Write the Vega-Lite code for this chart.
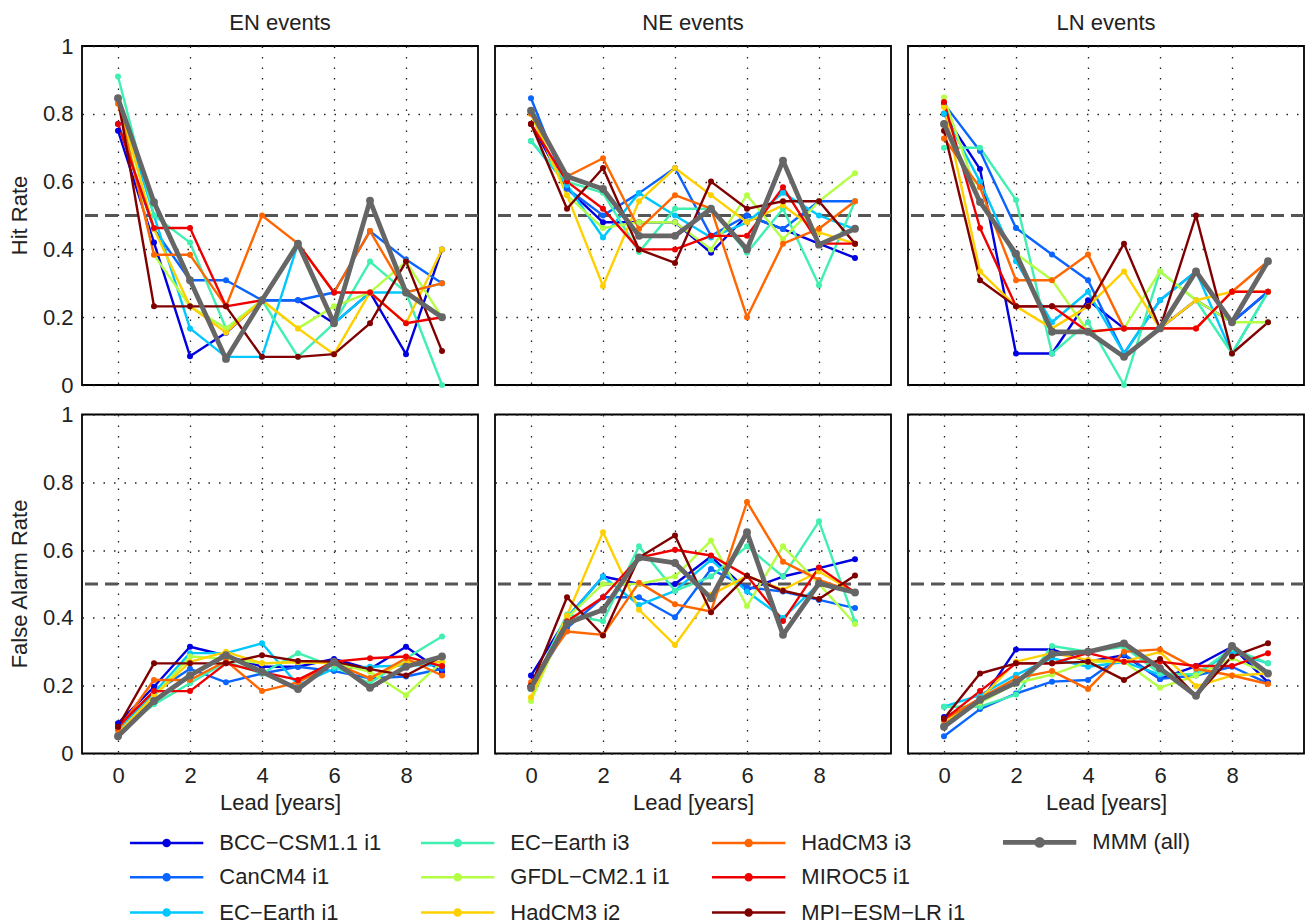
{
"$schema": "https://vega.github.io/schema/vega-lite/v6.json",
"padding": {"left": 9, "top": 12, "right": 0, "bottom": 0},
"background": "white",
"data": {"values": [
{"e":"EN","m":"H","s":"B","x":0,"y":0.75},{"e":"EN","m":"H","s":"B","x":1,"y":0.42},{"e":"EN","m":"H","s":"B","x":2,"y":0.085},{"e":"EN","m":"H","s":"B","x":3,"y":0.154},{"e":"EN","m":"H","s":"B","x":4,"y":0.25},{"e":"EN","m":"H","s":"B","x":5,"y":0.25},{"e":"EN","m":"H","s":"B","x":6,"y":0.182},{"e":"EN","m":"H","s":"B","x":7,"y":0.273},{"e":"EN","m":"H","s":"B","x":8,"y":0.091},{"e":"EN","m":"H","s":"B","x":9,"y":0.4},
{"e":"EN","m":"H","s":"C","x":0,"y":0.77},{"e":"EN","m":"H","s":"C","x":1,"y":0.46},{"e":"EN","m":"H","s":"C","x":2,"y":0.309},{"e":"EN","m":"H","s":"C","x":3,"y":0.309},{"e":"EN","m":"H","s":"C","x":4,"y":0.25},{"e":"EN","m":"H","s":"C","x":5,"y":0.25},{"e":"EN","m":"H","s":"C","x":6,"y":0.273},{"e":"EN","m":"H","s":"C","x":7,"y":0.454},{"e":"EN","m":"H","s":"C","x":8,"y":0.37},{"e":"EN","m":"H","s":"C","x":9,"y":0.3},
{"e":"EN","m":"H","s":"E1","x":0,"y":0.846},{"e":"EN","m":"H","s":"E1","x":1,"y":0.5},{"e":"EN","m":"H","s":"E1","x":2,"y":0.167},{"e":"EN","m":"H","s":"E1","x":3,"y":0.083},{"e":"EN","m":"H","s":"E1","x":4,"y":0.083},{"e":"EN","m":"H","s":"E1","x":5,"y":0.417},{"e":"EN","m":"H","s":"E1","x":6,"y":0.182},{"e":"EN","m":"H","s":"E1","x":7,"y":0.273},{"e":"EN","m":"H","s":"E1","x":8,"y":0.273},{"e":"EN","m":"H","s":"E1","x":9,"y":0.3},
{"e":"EN","m":"H","s":"E3","x":0,"y":0.91},{"e":"EN","m":"H","s":"E3","x":1,"y":0.5},{"e":"EN","m":"H","s":"E3","x":2,"y":0.42},{"e":"EN","m":"H","s":"E3","x":3,"y":0.167},{"e":"EN","m":"H","s":"E3","x":4,"y":0.25},{"e":"EN","m":"H","s":"E3","x":5,"y":0.083},{"e":"EN","m":"H","s":"E3","x":6,"y":0.182},{"e":"EN","m":"H","s":"E3","x":7,"y":0.364},{"e":"EN","m":"H","s":"E3","x":8,"y":0.273},{"e":"EN","m":"H","s":"E3","x":9,"y":0},
{"e":"EN","m":"H","s":"G","x":0,"y":0.846},{"e":"EN","m":"H","s":"G","x":1,"y":0.384},{"e":"EN","m":"H","s":"G","x":2,"y":0.232},{"e":"EN","m":"H","s":"G","x":3,"y":0.167},{"e":"EN","m":"H","s":"G","x":4,"y":0.25},{"e":"EN","m":"H","s":"G","x":5,"y":0.167},{"e":"EN","m":"H","s":"G","x":6,"y":0.232},{"e":"EN","m":"H","s":"G","x":7,"y":0.273},{"e":"EN","m":"H","s":"G","x":8,"y":0.364},{"e":"EN","m":"H","s":"G","x":9,"y":0.2},
{"e":"EN","m":"H","s":"H2","x":0,"y":0.846},{"e":"EN","m":"H","s":"H2","x":1,"y":0.46},{"e":"EN","m":"H","s":"H2","x":2,"y":0.232},{"e":"EN","m":"H","s":"H2","x":3,"y":0.155},{"e":"EN","m":"H","s":"H2","x":4,"y":0.25},{"e":"EN","m":"H","s":"H2","x":5,"y":0.167},{"e":"EN","m":"H","s":"H2","x":6,"y":0.091},{"e":"EN","m":"H","s":"H2","x":7,"y":0.273},{"e":"EN","m":"H","s":"H2","x":8,"y":0.182},{"e":"EN","m":"H","s":"H2","x":9,"y":0.4},
{"e":"EN","m":"H","s":"H3","x":0,"y":0.83},{"e":"EN","m":"H","s":"H3","x":1,"y":0.384},{"e":"EN","m":"H","s":"H3","x":2,"y":0.384},{"e":"EN","m":"H","s":"H3","x":3,"y":0.232},{"e":"EN","m":"H","s":"H3","x":4,"y":0.5},{"e":"EN","m":"H","s":"H3","x":5,"y":0.417},{"e":"EN","m":"H","s":"H3","x":6,"y":0.273},{"e":"EN","m":"H","s":"H3","x":7,"y":0.454},{"e":"EN","m":"H","s":"H3","x":8,"y":0.273},{"e":"EN","m":"H","s":"H3","x":9,"y":0.3},
{"e":"EN","m":"H","s":"M","x":0,"y":0.77},{"e":"EN","m":"H","s":"M","x":1,"y":0.463},{"e":"EN","m":"H","s":"M","x":2,"y":0.463},{"e":"EN","m":"H","s":"M","x":3,"y":0.232},{"e":"EN","m":"H","s":"M","x":4,"y":0.25},{"e":"EN","m":"H","s":"M","x":5,"y":0.417},{"e":"EN","m":"H","s":"M","x":6,"y":0.273},{"e":"EN","m":"H","s":"M","x":7,"y":0.273},{"e":"EN","m":"H","s":"M","x":8,"y":0.182},{"e":"EN","m":"H","s":"M","x":9,"y":0.2},
{"e":"EN","m":"H","s":"P","x":0,"y":0.846},{"e":"EN","m":"H","s":"P","x":1,"y":0.232},{"e":"EN","m":"H","s":"P","x":2,"y":0.232},{"e":"EN","m":"H","s":"P","x":3,"y":0.232},{"e":"EN","m":"H","s":"P","x":4,"y":0.083},{"e":"EN","m":"H","s":"P","x":5,"y":0.083},{"e":"EN","m":"H","s":"P","x":6,"y":0.091},{"e":"EN","m":"H","s":"P","x":7,"y":0.182},{"e":"EN","m":"H","s":"P","x":8,"y":0.364},{"e":"EN","m":"H","s":"P","x":9,"y":0.1},
{"e":"EN","m":"H","s":"MMM","x":0,"y":0.846},{"e":"EN","m":"H","s":"MMM","x":1,"y":0.539},{"e":"EN","m":"H","s":"MMM","x":2,"y":0.309},{"e":"EN","m":"H","s":"MMM","x":3,"y":0.077},{"e":"EN","m":"H","s":"MMM","x":4,"y":0.25},{"e":"EN","m":"H","s":"MMM","x":5,"y":0.417},{"e":"EN","m":"H","s":"MMM","x":6,"y":0.182},{"e":"EN","m":"H","s":"MMM","x":7,"y":0.544},{"e":"EN","m":"H","s":"MMM","x":8,"y":0.273},{"e":"EN","m":"H","s":"MMM","x":9,"y":0.2},
{"e":"NE","m":"H","s":"B","x":0,"y":0.77},{"e":"NE","m":"H","s":"B","x":1,"y":0.58},{"e":"NE","m":"H","s":"B","x":2,"y":0.48},{"e":"NE","m":"H","s":"B","x":3,"y":0.48},{"e":"NE","m":"H","s":"B","x":4,"y":0.48},{"e":"NE","m":"H","s":"B","x":5,"y":0.39},{"e":"NE","m":"H","s":"B","x":6,"y":0.5},{"e":"NE","m":"H","s":"B","x":7,"y":0.46},{"e":"NE","m":"H","s":"B","x":8,"y":0.417},{"e":"NE","m":"H","s":"B","x":9,"y":0.375},
{"e":"NE","m":"H","s":"C","x":0,"y":0.846},{"e":"NE","m":"H","s":"C","x":1,"y":0.58},{"e":"NE","m":"H","s":"C","x":2,"y":0.5},{"e":"NE","m":"H","s":"C","x":3,"y":0.566},{"e":"NE","m":"H","s":"C","x":4,"y":0.64},{"e":"NE","m":"H","s":"C","x":5,"y":0.44},{"e":"NE","m":"H","s":"C","x":6,"y":0.5},{"e":"NE","m":"H","s":"C","x":7,"y":0.46},{"e":"NE","m":"H","s":"C","x":8,"y":0.542},{"e":"NE","m":"H","s":"C","x":9,"y":0.542},
{"e":"NE","m":"H","s":"E1","x":0,"y":0.72},{"e":"NE","m":"H","s":"E1","x":1,"y":0.59},{"e":"NE","m":"H","s":"E1","x":2,"y":0.435},{"e":"NE","m":"H","s":"E1","x":3,"y":0.566},{"e":"NE","m":"H","s":"E1","x":4,"y":0.5},{"e":"NE","m":"H","s":"E1","x":5,"y":0.435},{"e":"NE","m":"H","s":"E1","x":6,"y":0.48},{"e":"NE","m":"H","s":"E1","x":7,"y":0.567},{"e":"NE","m":"H","s":"E1","x":8,"y":0.5},{"e":"NE","m":"H","s":"E1","x":9,"y":0.46},
{"e":"NE","m":"H","s":"E3","x":0,"y":0.72},{"e":"NE","m":"H","s":"E3","x":1,"y":0.6},{"e":"NE","m":"H","s":"E3","x":2,"y":0.567},{"e":"NE","m":"H","s":"E3","x":3,"y":0.392},{"e":"NE","m":"H","s":"E3","x":4,"y":0.52},{"e":"NE","m":"H","s":"E3","x":5,"y":0.52},{"e":"NE","m":"H","s":"E3","x":6,"y":0.39},{"e":"NE","m":"H","s":"E3","x":7,"y":0.52},{"e":"NE","m":"H","s":"E3","x":8,"y":0.294},{"e":"NE","m":"H","s":"E3","x":9,"y":0.542},
{"e":"NE","m":"H","s":"G","x":0,"y":0.8},{"e":"NE","m":"H","s":"G","x":1,"y":0.56},{"e":"NE","m":"H","s":"G","x":2,"y":0.463},{"e":"NE","m":"H","s":"G","x":3,"y":0.48},{"e":"NE","m":"H","s":"G","x":4,"y":0.48},{"e":"NE","m":"H","s":"G","x":5,"y":0.4},{"e":"NE","m":"H","s":"G","x":6,"y":0.56},{"e":"NE","m":"H","s":"G","x":7,"y":0.43},{"e":"NE","m":"H","s":"G","x":8,"y":0.542},{"e":"NE","m":"H","s":"G","x":9,"y":0.625},
{"e":"NE","m":"H","s":"H2","x":0,"y":0.8},{"e":"NE","m":"H","s":"H2","x":1,"y":0.56},{"e":"NE","m":"H","s":"H2","x":2,"y":0.292},{"e":"NE","m":"H","s":"H2","x":3,"y":0.542},{"e":"NE","m":"H","s":"H2","x":4,"y":0.64},{"e":"NE","m":"H","s":"H2","x":5,"y":0.56},{"e":"NE","m":"H","s":"H2","x":6,"y":0.48},{"e":"NE","m":"H","s":"H2","x":7,"y":0.53},{"e":"NE","m":"H","s":"H2","x":8,"y":0.45},{"e":"NE","m":"H","s":"H2","x":9,"y":0.417},
{"e":"NE","m":"H","s":"H3","x":0,"y":0.8},{"e":"NE","m":"H","s":"H3","x":1,"y":0.615},{"e":"NE","m":"H","s":"H3","x":2,"y":0.669},{"e":"NE","m":"H","s":"H3","x":3,"y":0.46},{"e":"NE","m":"H","s":"H3","x":4,"y":0.56},{"e":"NE","m":"H","s":"H3","x":5,"y":0.52},{"e":"NE","m":"H","s":"H3","x":6,"y":0.2},{"e":"NE","m":"H","s":"H3","x":7,"y":0.417},{"e":"NE","m":"H","s":"H3","x":8,"y":0.461},{"e":"NE","m":"H","s":"H3","x":9,"y":0.542},
{"e":"NE","m":"H","s":"M","x":0,"y":0.77},{"e":"NE","m":"H","s":"M","x":1,"y":0.6},{"e":"NE","m":"H","s":"M","x":2,"y":0.52},{"e":"NE","m":"H","s":"M","x":3,"y":0.4},{"e":"NE","m":"H","s":"M","x":4,"y":0.4},{"e":"NE","m":"H","s":"M","x":5,"y":0.44},{"e":"NE","m":"H","s":"M","x":6,"y":0.44},{"e":"NE","m":"H","s":"M","x":7,"y":0.583},{"e":"NE","m":"H","s":"M","x":8,"y":0.417},{"e":"NE","m":"H","s":"M","x":9,"y":0.417},
{"e":"NE","m":"H","s":"P","x":0,"y":0.77},{"e":"NE","m":"H","s":"P","x":1,"y":0.52},{"e":"NE","m":"H","s":"P","x":2,"y":0.64},{"e":"NE","m":"H","s":"P","x":3,"y":0.4},{"e":"NE","m":"H","s":"P","x":4,"y":0.36},{"e":"NE","m":"H","s":"P","x":5,"y":0.6},{"e":"NE","m":"H","s":"P","x":6,"y":0.52},{"e":"NE","m":"H","s":"P","x":7,"y":0.542},{"e":"NE","m":"H","s":"P","x":8,"y":0.542},{"e":"NE","m":"H","s":"P","x":9,"y":0.417},
{"e":"NE","m":"H","s":"MMM","x":0,"y":0.809},{"e":"NE","m":"H","s":"MMM","x":1,"y":0.615},{"e":"NE","m":"H","s":"MMM","x":2,"y":0.578},{"e":"NE","m":"H","s":"MMM","x":3,"y":0.44},{"e":"NE","m":"H","s":"MMM","x":4,"y":0.44},{"e":"NE","m":"H","s":"MMM","x":5,"y":0.52},{"e":"NE","m":"H","s":"MMM","x":6,"y":0.4},{"e":"NE","m":"H","s":"MMM","x":7,"y":0.662},{"e":"NE","m":"H","s":"MMM","x":8,"y":0.414},{"e":"NE","m":"H","s":"MMM","x":9,"y":0.461},
{"e":"LN","m":"H","s":"B","x":0,"y":0.8},{"e":"LN","m":"H","s":"B","x":1,"y":0.637},{"e":"LN","m":"H","s":"B","x":2,"y":0.093},{"e":"LN","m":"H","s":"B","x":3,"y":0.093},{"e":"LN","m":"H","s":"B","x":4,"y":0.25},{"e":"LN","m":"H","s":"B","x":5,"y":0.167},{"e":"LN","m":"H","s":"B","x":6,"y":0.167},{"e":"LN","m":"H","s":"B","x":7,"y":0.25},{"e":"LN","m":"H","s":"B","x":8,"y":0.185},{"e":"LN","m":"H","s":"B","x":9,"y":0.275},
{"e":"LN","m":"H","s":"C","x":0,"y":0.83},{"e":"LN","m":"H","s":"C","x":1,"y":0.69},{"e":"LN","m":"H","s":"C","x":2,"y":0.463},{"e":"LN","m":"H","s":"C","x":3,"y":0.385},{"e":"LN","m":"H","s":"C","x":4,"y":0.309},{"e":"LN","m":"H","s":"C","x":5,"y":0.093},{"e":"LN","m":"H","s":"C","x":6,"y":0.25},{"e":"LN","m":"H","s":"C","x":7,"y":0.335},{"e":"LN","m":"H","s":"C","x":8,"y":0.185},{"e":"LN","m":"H","s":"C","x":9,"y":0.275},
{"e":"LN","m":"H","s":"E1","x":0,"y":0.8},{"e":"LN","m":"H","s":"E1","x":1,"y":0.6},{"e":"LN","m":"H","s":"E1","x":2,"y":0.365},{"e":"LN","m":"H","s":"E1","x":3,"y":0.185},{"e":"LN","m":"H","s":"E1","x":4,"y":0.275},{"e":"LN","m":"H","s":"E1","x":5,"y":0.093},{"e":"LN","m":"H","s":"E1","x":6,"y":0.25},{"e":"LN","m":"H","s":"E1","x":7,"y":0.335},{"e":"LN","m":"H","s":"E1","x":8,"y":0.093},{"e":"LN","m":"H","s":"E1","x":9,"y":0.275},
{"e":"LN","m":"H","s":"E3","x":0,"y":0.7},{"e":"LN","m":"H","s":"E3","x":1,"y":0.7},{"e":"LN","m":"H","s":"E3","x":2,"y":0.546},{"e":"LN","m":"H","s":"E3","x":3,"y":0.093},{"e":"LN","m":"H","s":"E3","x":4,"y":0.185},{"e":"LN","m":"H","s":"E3","x":5,"y":0},{"e":"LN","m":"H","s":"E3","x":6,"y":0.335},{"e":"LN","m":"H","s":"E3","x":7,"y":0.25},{"e":"LN","m":"H","s":"E3","x":8,"y":0.093},{"e":"LN","m":"H","s":"E3","x":9,"y":0.275},
{"e":"LN","m":"H","s":"G","x":0,"y":0.848},{"e":"LN","m":"H","s":"G","x":1,"y":0.54},{"e":"LN","m":"H","s":"G","x":2,"y":0.387},{"e":"LN","m":"H","s":"G","x":3,"y":0.31},{"e":"LN","m":"H","s":"G","x":4,"y":0.157},{"e":"LN","m":"H","s":"G","x":5,"y":0.167},{"e":"LN","m":"H","s":"G","x":6,"y":0.335},{"e":"LN","m":"H","s":"G","x":7,"y":0.25},{"e":"LN","m":"H","s":"G","x":8,"y":0.185},{"e":"LN","m":"H","s":"G","x":9,"y":0.185},
{"e":"LN","m":"H","s":"H2","x":0,"y":0.82},{"e":"LN","m":"H","s":"H2","x":1,"y":0.335},{"e":"LN","m":"H","s":"H2","x":2,"y":0.232},{"e":"LN","m":"H","s":"H2","x":3,"y":0.167},{"e":"LN","m":"H","s":"H2","x":4,"y":0.232},{"e":"LN","m":"H","s":"H2","x":5,"y":0.335},{"e":"LN","m":"H","s":"H2","x":6,"y":0.167},{"e":"LN","m":"H","s":"H2","x":7,"y":0.25},{"e":"LN","m":"H","s":"H2","x":8,"y":0.275},{"e":"LN","m":"H","s":"H2","x":9,"y":0.275},
{"e":"LN","m":"H","s":"H3","x":0,"y":0.727},{"e":"LN","m":"H","s":"H3","x":1,"y":0.583},{"e":"LN","m":"H","s":"H3","x":2,"y":0.309},{"e":"LN","m":"H","s":"H3","x":3,"y":0.309},{"e":"LN","m":"H","s":"H3","x":4,"y":0.385},{"e":"LN","m":"H","s":"H3","x":5,"y":0.167},{"e":"LN","m":"H","s":"H3","x":6,"y":0.167},{"e":"LN","m":"H","s":"H3","x":7,"y":0.167},{"e":"LN","m":"H","s":"H3","x":8,"y":0.275},{"e":"LN","m":"H","s":"H3","x":9,"y":0.365},
{"e":"LN","m":"H","s":"M","x":0,"y":0.835},{"e":"LN","m":"H","s":"M","x":1,"y":0.463},{"e":"LN","m":"H","s":"M","x":2,"y":0.232},{"e":"LN","m":"H","s":"M","x":3,"y":0.232},{"e":"LN","m":"H","s":"M","x":4,"y":0.157},{"e":"LN","m":"H","s":"M","x":5,"y":0.167},{"e":"LN","m":"H","s":"M","x":6,"y":0.167},{"e":"LN","m":"H","s":"M","x":7,"y":0.167},{"e":"LN","m":"H","s":"M","x":8,"y":0.275},{"e":"LN","m":"H","s":"M","x":9,"y":0.275},
{"e":"LN","m":"H","s":"P","x":0,"y":0.75},{"e":"LN","m":"H","s":"P","x":1,"y":0.309},{"e":"LN","m":"H","s":"P","x":2,"y":0.232},{"e":"LN","m":"H","s":"P","x":3,"y":0.232},{"e":"LN","m":"H","s":"P","x":4,"y":0.232},{"e":"LN","m":"H","s":"P","x":5,"y":0.417},{"e":"LN","m":"H","s":"P","x":6,"y":0.167},{"e":"LN","m":"H","s":"P","x":7,"y":0.5},{"e":"LN","m":"H","s":"P","x":8,"y":0.093},{"e":"LN","m":"H","s":"P","x":9,"y":0.185},
{"e":"LN","m":"H","s":"MMM","x":0,"y":0.77},{"e":"LN","m":"H","s":"MMM","x":1,"y":0.54},{"e":"LN","m":"H","s":"MMM","x":2,"y":0.387},{"e":"LN","m":"H","s":"MMM","x":3,"y":0.157},{"e":"LN","m":"H","s":"MMM","x":4,"y":0.157},{"e":"LN","m":"H","s":"MMM","x":5,"y":0.083},{"e":"LN","m":"H","s":"MMM","x":6,"y":0.167},{"e":"LN","m":"H","s":"MMM","x":7,"y":0.335},{"e":"LN","m":"H","s":"MMM","x":8,"y":0.185},{"e":"LN","m":"H","s":"MMM","x":9,"y":0.365},
{"e":"EN","m":"F","s":"B","x":0,"y":0.089},{"e":"EN","m":"F","s":"B","x":1,"y":0.197},{"e":"EN","m":"F","s":"B","x":2,"y":0.315},{"e":"EN","m":"F","s":"B","x":3,"y":0.289},{"e":"EN","m":"F","s":"B","x":4,"y":0.256},{"e":"EN","m":"F","s":"B","x":5,"y":0.256},{"e":"EN","m":"F","s":"B","x":6,"y":0.279},{"e":"EN","m":"F","s":"B","x":7,"y":0.249},{"e":"EN","m":"F","s":"B","x":8,"y":0.315},{"e":"EN","m":"F","s":"B","x":9,"y":0.241},
{"e":"EN","m":"F","s":"C","x":0,"y":0.07},{"e":"EN","m":"F","s":"C","x":1,"y":0.18},{"e":"EN","m":"F","s":"C","x":2,"y":0.25},{"e":"EN","m":"F","s":"C","x":3,"y":0.21},{"e":"EN","m":"F","s":"C","x":4,"y":0.236},{"e":"EN","m":"F","s":"C","x":5,"y":0.256},{"e":"EN","m":"F","s":"C","x":6,"y":0.243},{"e":"EN","m":"F","s":"C","x":7,"y":0.222},{"e":"EN","m":"F","s":"C","x":8,"y":0.227},{"e":"EN","m":"F","s":"C","x":9,"y":0.25},
{"e":"EN","m":"F","s":"E1","x":0,"y":0.07},{"e":"EN","m":"F","s":"E1","x":1,"y":0.18},{"e":"EN","m":"F","s":"E1","x":2,"y":0.296},{"e":"EN","m":"F","s":"E1","x":3,"y":0.296},{"e":"EN","m":"F","s":"E1","x":4,"y":0.325},{"e":"EN","m":"F","s":"E1","x":5,"y":0.202},{"e":"EN","m":"F","s":"E1","x":6,"y":0.25},{"e":"EN","m":"F","s":"E1","x":7,"y":0.256},{"e":"EN","m":"F","s":"E1","x":8,"y":0.26},{"e":"EN","m":"F","s":"E1","x":9,"y":0.26},
{"e":"EN","m":"F","s":"E3","x":0,"y":0.06},{"e":"EN","m":"F","s":"E3","x":1,"y":0.145},{"e":"EN","m":"F","s":"E3","x":2,"y":0.207},{"e":"EN","m":"F","s":"E3","x":3,"y":0.27},{"e":"EN","m":"F","s":"E3","x":4,"y":0.236},{"e":"EN","m":"F","s":"E3","x":5,"y":0.296},{"e":"EN","m":"F","s":"E3","x":6,"y":0.256},{"e":"EN","m":"F","s":"E3","x":7,"y":0.207},{"e":"EN","m":"F","s":"E3","x":8,"y":0.281},{"e":"EN","m":"F","s":"E3","x":9,"y":0.345},
{"e":"EN","m":"F","s":"G","x":0,"y":0.06},{"e":"EN","m":"F","s":"G","x":1,"y":0.17},{"e":"EN","m":"F","s":"G","x":2,"y":0.286},{"e":"EN","m":"F","s":"G","x":3,"y":0.28},{"e":"EN","m":"F","s":"G","x":4,"y":0.266},{"e":"EN","m":"F","s":"G","x":5,"y":0.27},{"e":"EN","m":"F","s":"G","x":6,"y":0.266},{"e":"EN","m":"F","s":"G","x":7,"y":0.241},{"e":"EN","m":"F","s":"G","x":8,"y":0.172},{"e":"EN","m":"F","s":"G","x":9,"y":0.27},
{"e":"EN","m":"F","s":"H2","x":0,"y":0.06},{"e":"EN","m":"F","s":"H2","x":1,"y":0.17},{"e":"EN","m":"F","s":"H2","x":2,"y":0.27},{"e":"EN","m":"F","s":"H2","x":3,"y":0.3},{"e":"EN","m":"F","s":"H2","x":4,"y":0.266},{"e":"EN","m":"F","s":"H2","x":5,"y":0.27},{"e":"EN","m":"F","s":"H2","x":6,"y":0.266},{"e":"EN","m":"F","s":"H2","x":7,"y":0.222},{"e":"EN","m":"F","s":"H2","x":8,"y":0.27},{"e":"EN","m":"F","s":"H2","x":9,"y":0.27},
{"e":"EN","m":"F","s":"H3","x":0,"y":0.07},{"e":"EN","m":"F","s":"H3","x":1,"y":0.217},{"e":"EN","m":"F","s":"H3","x":2,"y":0.217},{"e":"EN","m":"F","s":"H3","x":3,"y":0.273},{"e":"EN","m":"F","s":"H3","x":4,"y":0.184},{"e":"EN","m":"F","s":"H3","x":5,"y":0.21},{"e":"EN","m":"F","s":"H3","x":6,"y":0.266},{"e":"EN","m":"F","s":"H3","x":7,"y":0.222},{"e":"EN","m":"F","s":"H3","x":8,"y":0.281},{"e":"EN","m":"F","s":"H3","x":9,"y":0.23},
{"e":"EN","m":"F","s":"M","x":0,"y":0.079},{"e":"EN","m":"F","s":"M","x":1,"y":0.184},{"e":"EN","m":"F","s":"M","x":2,"y":0.184},{"e":"EN","m":"F","s":"M","x":3,"y":0.266},{"e":"EN","m":"F","s":"M","x":4,"y":0.24},{"e":"EN","m":"F","s":"M","x":5,"y":0.217},{"e":"EN","m":"F","s":"M","x":6,"y":0.271},{"e":"EN","m":"F","s":"M","x":7,"y":0.281},{"e":"EN","m":"F","s":"M","x":8,"y":0.286},{"e":"EN","m":"F","s":"M","x":9,"y":0.258},
{"e":"EN","m":"F","s":"P","x":0,"y":0.079},{"e":"EN","m":"F","s":"P","x":1,"y":0.266},{"e":"EN","m":"F","s":"P","x":2,"y":0.266},{"e":"EN","m":"F","s":"P","x":3,"y":0.266},{"e":"EN","m":"F","s":"P","x":4,"y":0.29},{"e":"EN","m":"F","s":"P","x":5,"y":0.273},{"e":"EN","m":"F","s":"P","x":6,"y":0.271},{"e":"EN","m":"F","s":"P","x":7,"y":0.249},{"e":"EN","m":"F","s":"P","x":8,"y":0.23},{"e":"EN","m":"F","s":"P","x":9,"y":0.286},
{"e":"EN","m":"F","s":"MMM","x":0,"y":0.051},{"e":"EN","m":"F","s":"MMM","x":1,"y":0.155},{"e":"EN","m":"F","s":"MMM","x":2,"y":0.23},{"e":"EN","m":"F","s":"MMM","x":3,"y":0.29},{"e":"EN","m":"F","s":"MMM","x":4,"y":0.241},{"e":"EN","m":"F","s":"MMM","x":5,"y":0.19},{"e":"EN","m":"F","s":"MMM","x":6,"y":0.271},{"e":"EN","m":"F","s":"MMM","x":7,"y":0.194},{"e":"EN","m":"F","s":"MMM","x":8,"y":0.256},{"e":"EN","m":"F","s":"MMM","x":9,"y":0.286},
{"e":"NE","m":"F","s":"B","x":0,"y":0.23},{"e":"NE","m":"F","s":"B","x":1,"y":0.4},{"e":"NE","m":"F","s":"B","x":2,"y":0.522},{"e":"NE","m":"F","s":"B","x":3,"y":0.5},{"e":"NE","m":"F","s":"B","x":4,"y":0.5},{"e":"NE","m":"F","s":"B","x":5,"y":0.581},{"e":"NE","m":"F","s":"B","x":6,"y":0.483},{"e":"NE","m":"F","s":"B","x":7,"y":0.522},{"e":"NE","m":"F","s":"B","x":8,"y":0.547},{"e":"NE","m":"F","s":"B","x":9,"y":0.573},
{"e":"NE","m":"F","s":"C","x":0,"y":0.19},{"e":"NE","m":"F","s":"C","x":1,"y":0.37},{"e":"NE","m":"F","s":"C","x":2,"y":0.461},{"e":"NE","m":"F","s":"C","x":3,"y":0.461},{"e":"NE","m":"F","s":"C","x":4,"y":0.402},{"e":"NE","m":"F","s":"C","x":5,"y":0.544},{"e":"NE","m":"F","s":"C","x":6,"y":0.49},{"e":"NE","m":"F","s":"C","x":7,"y":0.478},{"e":"NE","m":"F","s":"C","x":8,"y":0.453},{"e":"NE","m":"F","s":"C","x":9,"y":0.429},
{"e":"NE","m":"F","s":"E1","x":0,"y":0.19},{"e":"NE","m":"F","s":"E1","x":1,"y":0.4},{"e":"NE","m":"F","s":"E1","x":2,"y":0.522},{"e":"NE","m":"F","s":"E1","x":3,"y":0.438},{"e":"NE","m":"F","s":"E1","x":4,"y":0.48},{"e":"NE","m":"F","s":"E1","x":5,"y":0.571},{"e":"NE","m":"F","s":"E1","x":6,"y":0.478},{"e":"NE","m":"F","s":"E1","x":7,"y":0.4},{"e":"NE","m":"F","s":"E1","x":8,"y":0.5},{"e":"NE","m":"F","s":"E1","x":9,"y":0.475},
{"e":"NE","m":"F","s":"E3","x":0,"y":0.19},{"e":"NE","m":"F","s":"E3","x":1,"y":0.41},{"e":"NE","m":"F","s":"E3","x":2,"y":0.39},{"e":"NE","m":"F","s":"E3","x":3,"y":0.611},{"e":"NE","m":"F","s":"E3","x":4,"y":0.48},{"e":"NE","m":"F","s":"E3","x":5,"y":0.522},{"e":"NE","m":"F","s":"E3","x":6,"y":0.611},{"e":"NE","m":"F","s":"E3","x":7,"y":0.522},{"e":"NE","m":"F","s":"E3","x":8,"y":0.685},{"e":"NE","m":"F","s":"E3","x":9,"y":0.389},
{"e":"NE","m":"F","s":"G","x":0,"y":0.155},{"e":"NE","m":"F","s":"G","x":1,"y":0.4},{"e":"NE","m":"F","s":"G","x":2,"y":0.5},{"e":"NE","m":"F","s":"G","x":3,"y":0.5},{"e":"NE","m":"F","s":"G","x":4,"y":0.522},{"e":"NE","m":"F","s":"G","x":5,"y":0.628},{"e":"NE","m":"F","s":"G","x":6,"y":0.435},{"e":"NE","m":"F","s":"G","x":7,"y":0.611},{"e":"NE","m":"F","s":"G","x":8,"y":0.5},{"e":"NE","m":"F","s":"G","x":9,"y":0.382},
{"e":"NE","m":"F","s":"H2","x":0,"y":0.166},{"e":"NE","m":"F","s":"H2","x":1,"y":0.407},{"e":"NE","m":"F","s":"H2","x":2,"y":0.653},{"e":"NE","m":"F","s":"H2","x":3,"y":0.424},{"e":"NE","m":"F","s":"H2","x":4,"y":0.32},{"e":"NE","m":"F","s":"H2","x":5,"y":0.468},{"e":"NE","m":"F","s":"H2","x":6,"y":0.524},{"e":"NE","m":"F","s":"H2","x":7,"y":0.483},{"e":"NE","m":"F","s":"H2","x":8,"y":0.537},{"e":"NE","m":"F","s":"H2","x":9,"y":0.475},
{"e":"NE","m":"F","s":"H3","x":0,"y":0.21},{"e":"NE","m":"F","s":"H3","x":1,"y":0.36},{"e":"NE","m":"F","s":"H3","x":2,"y":0.35},{"e":"NE","m":"F","s":"H3","x":3,"y":0.504},{"e":"NE","m":"F","s":"H3","x":4,"y":0.44},{"e":"NE","m":"F","s":"H3","x":5,"y":0.419},{"e":"NE","m":"F","s":"H3","x":6,"y":0.742},{"e":"NE","m":"F","s":"H3","x":7,"y":0.566},{"e":"NE","m":"F","s":"H3","x":8,"y":0.512},{"e":"NE","m":"F","s":"H3","x":9,"y":0.475},
{"e":"NE","m":"F","s":"M","x":0,"y":0.2},{"e":"NE","m":"F","s":"M","x":1,"y":0.39},{"e":"NE","m":"F","s":"M","x":2,"y":0.461},{"e":"NE","m":"F","s":"M","x":3,"y":0.578},{"e":"NE","m":"F","s":"M","x":4,"y":0.601},{"e":"NE","m":"F","s":"M","x":5,"y":0.584},{"e":"NE","m":"F","s":"M","x":6,"y":0.524},{"e":"NE","m":"F","s":"M","x":7,"y":0.391},{"e":"NE","m":"F","s":"M","x":8,"y":0.549},{"e":"NE","m":"F","s":"M","x":9,"y":0.475},
{"e":"NE","m":"F","s":"P","x":0,"y":0.2},{"e":"NE","m":"F","s":"P","x":1,"y":0.461},{"e":"NE","m":"F","s":"P","x":2,"y":0.348},{"e":"NE","m":"F","s":"P","x":3,"y":0.578},{"e":"NE","m":"F","s":"P","x":4,"y":0.643},{"e":"NE","m":"F","s":"P","x":5,"y":0.417},{"e":"NE","m":"F","s":"P","x":6,"y":0.524},{"e":"NE","m":"F","s":"P","x":7,"y":0.48},{"e":"NE","m":"F","s":"P","x":8,"y":0.456},{"e":"NE","m":"F","s":"P","x":9,"y":0.525},
{"e":"NE","m":"F","s":"MMM","x":0,"y":0.194},{"e":"NE","m":"F","s":"MMM","x":1,"y":0.384},{"e":"NE","m":"F","s":"MMM","x":2,"y":0.424},{"e":"NE","m":"F","s":"MMM","x":3,"y":0.578},{"e":"NE","m":"F","s":"MMM","x":4,"y":0.562},{"e":"NE","m":"F","s":"MMM","x":5,"y":0.458},{"e":"NE","m":"F","s":"MMM","x":6,"y":0.653},{"e":"NE","m":"F","s":"MMM","x":7,"y":0.35},{"e":"NE","m":"F","s":"MMM","x":8,"y":0.502},{"e":"NE","m":"F","s":"MMM","x":9,"y":0.475},
{"e":"LN","m":"F","s":"B","x":0,"y":0.108},{"e":"LN","m":"F","s":"B","x":1,"y":0.15},{"e":"LN","m":"F","s":"B","x":2,"y":0.307},{"e":"LN","m":"F","s":"B","x":3,"y":0.307},{"e":"LN","m":"F","s":"B","x":4,"y":0.271},{"e":"LN","m":"F","s":"B","x":5,"y":0.29},{"e":"LN","m":"F","s":"B","x":6,"y":0.22},{"e":"LN","m":"F","s":"B","x":7,"y":0.258},{"e":"LN","m":"F","s":"B","x":8,"y":0.315},{"e":"LN","m":"F","s":"B","x":9,"y":0.21},
{"e":"LN","m":"F","s":"C","x":0,"y":0.051},{"e":"LN","m":"F","s":"C","x":1,"y":0.131},{"e":"LN","m":"F","s":"C","x":2,"y":0.177},{"e":"LN","m":"F","s":"C","x":3,"y":0.212},{"e":"LN","m":"F","s":"C","x":4,"y":0.217},{"e":"LN","m":"F","s":"C","x":5,"y":0.293},{"e":"LN","m":"F","s":"C","x":6,"y":0.22},{"e":"LN","m":"F","s":"C","x":7,"y":0.23},{"e":"LN","m":"F","s":"C","x":8,"y":0.256},{"e":"LN","m":"F","s":"C","x":9,"y":0.207},
{"e":"LN","m":"F","s":"E1","x":0,"y":0.138},{"e":"LN","m":"F","s":"E1","x":1,"y":0.172},{"e":"LN","m":"F","s":"E1","x":2,"y":0.232},{"e":"LN","m":"F","s":"E1","x":3,"y":0.281},{"e":"LN","m":"F","s":"E1","x":4,"y":0.256},{"e":"LN","m":"F","s":"E1","x":5,"y":0.27},{"e":"LN","m":"F","s":"E1","x":6,"y":0.233},{"e":"LN","m":"F","s":"E1","x":7,"y":0.235},{"e":"LN","m":"F","s":"E1","x":8,"y":0.3},{"e":"LN","m":"F","s":"E1","x":9,"y":0.266},
{"e":"LN","m":"F","s":"E3","x":0,"y":0.138},{"e":"LN","m":"F","s":"E3","x":1,"y":0.138},{"e":"LN","m":"F","s":"E3","x":2,"y":0.174},{"e":"LN","m":"F","s":"E3","x":3,"y":0.317},{"e":"LN","m":"F","s":"E3","x":4,"y":0.3},{"e":"LN","m":"F","s":"E3","x":5,"y":0.315},{"e":"LN","m":"F","s":"E3","x":6,"y":0.236},{"e":"LN","m":"F","s":"E3","x":7,"y":0.233},{"e":"LN","m":"F","s":"E3","x":8,"y":0.31},{"e":"LN","m":"F","s":"E3","x":9,"y":0.266},
{"e":"LN","m":"F","s":"G","x":0,"y":0.09},{"e":"LN","m":"F","s":"G","x":1,"y":0.15},{"e":"LN","m":"F","s":"G","x":2,"y":0.207},{"e":"LN","m":"F","s":"G","x":3,"y":0.233},{"e":"LN","m":"F","s":"G","x":4,"y":0.27},{"e":"LN","m":"F","s":"G","x":5,"y":0.271},{"e":"LN","m":"F","s":"G","x":6,"y":0.194},{"e":"LN","m":"F","s":"G","x":7,"y":0.23},{"e":"LN","m":"F","s":"G","x":8,"y":0.281},{"e":"LN","m":"F","s":"G","x":9,"y":0.236},
{"e":"LN","m":"F","s":"H2","x":0,"y":0.09},{"e":"LN","m":"F","s":"H2","x":1,"y":0.16},{"e":"LN","m":"F","s":"H2","x":2,"y":0.271},{"e":"LN","m":"F","s":"H2","x":3,"y":0.296},{"e":"LN","m":"F","s":"H2","x":4,"y":0.276},{"e":"LN","m":"F","s":"H2","x":5,"y":0.271},{"e":"LN","m":"F","s":"H2","x":6,"y":0.3},{"e":"LN","m":"F","s":"H2","x":7,"y":0.199},{"e":"LN","m":"F","s":"H2","x":8,"y":0.23},{"e":"LN","m":"F","s":"H2","x":9,"y":0.236},
{"e":"LN","m":"F","s":"H3","x":0,"y":0.1},{"e":"LN","m":"F","s":"H3","x":1,"y":0.163},{"e":"LN","m":"F","s":"H3","x":2,"y":0.222},{"e":"LN","m":"F","s":"H3","x":3,"y":0.243},{"e":"LN","m":"F","s":"H3","x":4,"y":0.19},{"e":"LN","m":"F","s":"H3","x":5,"y":0.3},{"e":"LN","m":"F","s":"H3","x":6,"y":0.307},{"e":"LN","m":"F","s":"H3","x":7,"y":0.25},{"e":"LN","m":"F","s":"H3","x":8,"y":0.23},{"e":"LN","m":"F","s":"H3","x":9,"y":0.205},
{"e":"LN","m":"F","s":"M","x":0,"y":0.1},{"e":"LN","m":"F","s":"M","x":1,"y":0.184},{"e":"LN","m":"F","s":"M","x":2,"y":0.266},{"e":"LN","m":"F","s":"M","x":3,"y":0.266},{"e":"LN","m":"F","s":"M","x":4,"y":0.296},{"e":"LN","m":"F","s":"M","x":5,"y":0.271},{"e":"LN","m":"F","s":"M","x":6,"y":0.271},{"e":"LN","m":"F","s":"M","x":7,"y":0.258},{"e":"LN","m":"F","s":"M","x":8,"y":0.258},{"e":"LN","m":"F","s":"M","x":9,"y":0.296},
{"e":"LN","m":"F","s":"P","x":0,"y":0.103},{"e":"LN","m":"F","s":"P","x":1,"y":0.236},{"e":"LN","m":"F","s":"P","x":2,"y":0.266},{"e":"LN","m":"F","s":"P","x":3,"y":0.266},{"e":"LN","m":"F","s":"P","x":4,"y":0.271},{"e":"LN","m":"F","s":"P","x":5,"y":0.217},{"e":"LN","m":"F","s":"P","x":6,"y":0.279},{"e":"LN","m":"F","s":"P","x":7,"y":0.17},{"e":"LN","m":"F","s":"P","x":8,"y":0.286},{"e":"LN","m":"F","s":"P","x":9,"y":0.325},
{"e":"LN","m":"F","s":"MMM","x":0,"y":0.079},{"e":"LN","m":"F","s":"MMM","x":1,"y":0.158},{"e":"LN","m":"F","s":"MMM","x":2,"y":0.209},{"e":"LN","m":"F","s":"MMM","x":3,"y":0.293},{"e":"LN","m":"F","s":"MMM","x":4,"y":0.3},{"e":"LN","m":"F","s":"MMM","x":5,"y":0.325},{"e":"LN","m":"F","s":"MMM","x":6,"y":0.251},{"e":"LN","m":"F","s":"MMM","x":7,"y":0.17},{"e":"LN","m":"F","s":"MMM","x":8,"y":0.317},{"e":"LN","m":"F","s":"MMM","x":9,"y":0.236}
]},
"facet": {
  "row": {"field": "m", "type": "nominal", "sort": ["H", "F"], "title": null,
    "header": {"labelExpr": "datum.value === 'H' ? 'Hit Rate' : 'False Alarm Rate'", "labelAngle": -90, "labelOrient": "left", "labelPadding": 0}},
  "column": {"field": "e", "type": "nominal", "sort": ["EN", "NE", "LN"], "title": null,
    "header": {"labelExpr": "datum.value + ' events'", "labelPadding": 10}}
},
"spacing": {"row": 24.5, "column": 11},
"spec": {
  "width": 396,
  "height": 339,
  "layer": [
    {"transform": [{"filter": "datum.s === 'B' && datum.x === 0"}],
     "mark": {"type": "rule", "strokeDash": [13, 7], "strokeWidth": 3, "color": "#555555"},
     "encoding": {"y": {"datum": 0.5}}},
    {"transform": [{"filter": "datum.s !== 'MMM'"}],
     "mark": {"type": "line", "strokeWidth": 2.4, "strokeJoin": "round", "point": {"filled": true, "size": 36, "opacity": 1}},
     "encoding": {
       "x": {"field": "x", "type": "quantitative", "scale": {"domain": [-1, 10], "nice": false, "zero": false}, "axis": {"values": [0, 2, 4, 6, 8], "title": "Lead [years]"}},
       "y": {"field": "y", "type": "quantitative", "scale": {"domain": [0, 1], "nice": false}, "axis": {"values": [0, 0.2, 0.4, 0.6, 0.8, 1], "format": "~g", "title": null, "labelFlush": false}},
       "color": {"field": "s", "type": "nominal",
         "scale": {"domain": ["B", "E3", "H3", "MMM", "C", "G", "M", "Z", "E1", "H2", "P"],
                   "range": ["#0000e0", "#40f0b0", "#ff6600", "#666666", "#0a64ff", "#b4ff44", "#ee0000", "transparent", "#00c8ff", "#ffd000", "#800000"]},
         "legend": {"title": null, "orient": "none", "legendX": 48, "legendY": 785, "columns": 4, "direction": "horizontal", "gridAlign": "all", "columnPadding": 27, "rowPadding": 11.3, "symbolSize": 484, "symbolType": "M-1,0H5.664M2.059,0A0.273,0.273,0,1,1,2.605,0A0.273,0.273,0,1,1,2.059,0Z", "labelOffset": 67.3, "labelFont": "Liberation Sans", "labelFontSize": 22, "labelColor": "#222222", "labelLimit": 0,
           "labelExpr": "datum.value === 'B' ? 'BCC−CSM1.1 i1' : datum.value === 'C' ? 'CanCM4 i1' : datum.value === 'E1' ? 'EC−Earth i1' : datum.value === 'E3' ? 'EC−Earth i3' : datum.value === 'G' ? 'GFDL−CM2.1 i1' : datum.value === 'H2' ? 'HadCM3 i2' : datum.value === 'H3' ? 'HadCM3 i3' : datum.value === 'M' ? 'MIROC5 i1' : datum.value === 'P' ? 'MPI−ESM−LR i1' : datum.value === 'MMM' ? 'MMM (all)' : ''",
           "encode": {"symbols": {"update": {"fill": {"scale": "color", "field": "value"}, "stroke": {"scale": "color", "field": "value"}, "strokeWidth": {"signal": "datum.value === 'MMM' ? 4.6 : 2.5"}, "opacity": {"value": 1}}}}}}
     }},
    {"transform": [{"filter": "datum.s === 'MMM'"}],
     "mark": {"type": "line", "strokeWidth": 4.8, "strokeJoin": "round", "point": {"filled": true, "size": 62, "opacity": 1}},
     "encoding": {
       "x": {"field": "x", "type": "quantitative"},
       "y": {"field": "y", "type": "quantitative"},
       "color": {"field": "s", "type": "nominal"}
     }}
  ]
},
"config": {
  "font": "Liberation Sans",
  "view": {"stroke": "#000000", "strokeWidth": 1.8},
  "axis": {"grid": true, "gridColor": "#222222", "gridDash": [1.5, 9], "gridWidth": 1.3, "gridOpacity": 1, "ticks": false, "tickSize": 0, "domain": false, "labelFont": "Liberation Sans", "labelFontSize": 22, "labelColor": "#222222", "titleFont": "Liberation Sans", "titleFontSize": 22, "titleFontWeight": "normal", "titleColor": "#222222", "labelPadding": 6},
  "axisX": {"labelPadding": 10, "titlePadding": 6},
  "header": {"labelFont": "Liberation Sans", "labelFontSize": 22, "labelColor": "#222222"}
}
}
